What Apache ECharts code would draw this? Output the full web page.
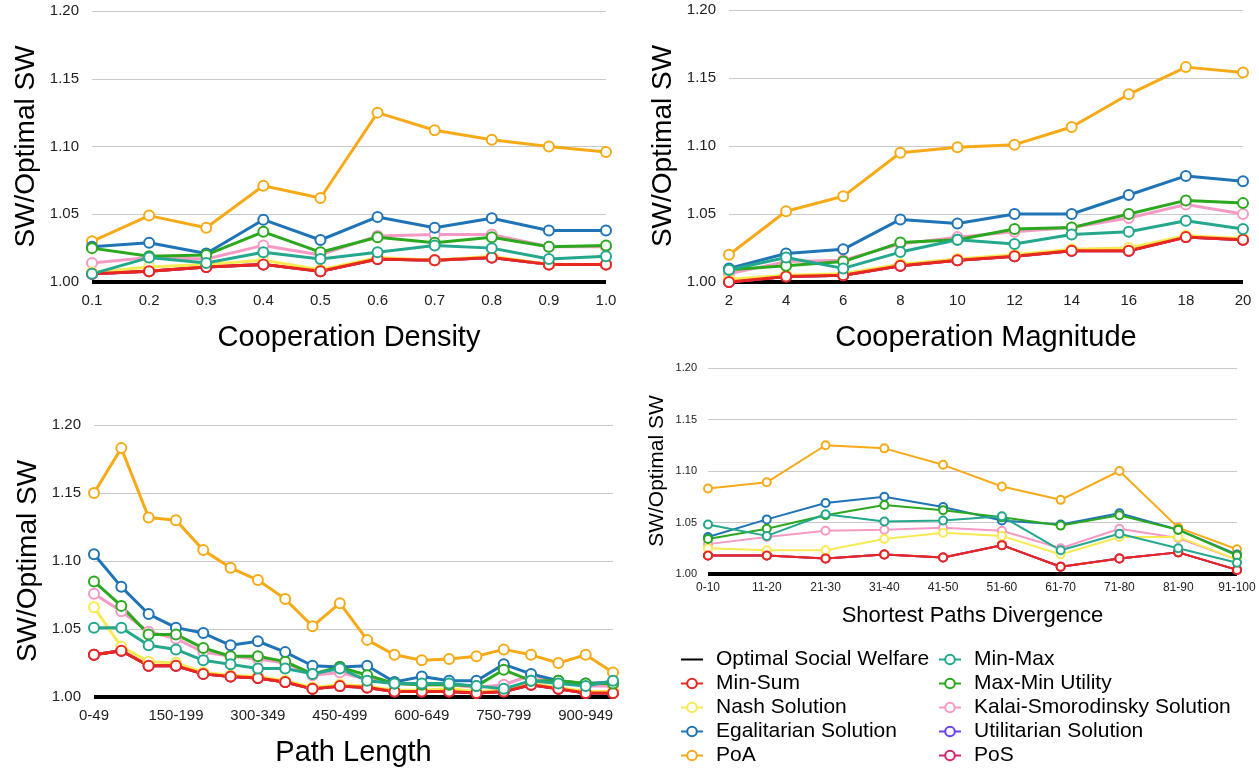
<!DOCTYPE html>
<html>
<head>
<meta charset="utf-8">
<script src="https://cdn.jsdelivr.net/npm/echarts@6/dist/echarts.min.js"></script>
<style>
  body { margin: 0; background: #fff; }
  #main { width: 1259px; height: 772px; }
</style>
</head>
<body>
<div id="main"></div>
<script>
  // categories
  var densityLabels = ['0.1', '0.2', '0.3', '0.4', '0.5', '0.6', '0.7', '0.8', '0.9', '1.0'];
  var magnitudeLabels = ['2', '4', '6', '8', '10', '12', '14', '16', '18', '20'];
  var pathLabels = ['0-49', '50-99', '100-149', '150-199', '200-249', '250-299', '300-349', '350-399', '400-449', '450-499',
    '500-549', '550-599', '600-649', '650-699', '700-749', '750-799', '800-849', '850-899', '900-949', '950-999'];
  var divergenceLabels = ['0-10', '11-20', '21-30', '31-40', '41-50', '51-60', '61-70', '71-80', '81-90', '91-100'];

  // Cooperation Density
  var densityOptimal = [1, 1, 1, 1, 1, 1, 1, 1, 1, 1];
  var densityMinSum = [1.006, 1.008, 1.011, 1.013, 1.008, 1.017, 1.016, 1.018, 1.013, 1.013];
  var densityNash = [1.007, 1.011, 1.013, 1.016, 1.009, 1.018, 1.016, 1.019, 1.013, 1.013];
  var densityEgalitarian = [1.026, 1.029, 1.021, 1.046, 1.031, 1.048, 1.040, 1.047, 1.038, 1.038];
  var densityPoA = [1.030, 1.049, 1.040, 1.071, 1.062, 1.125, 1.112, 1.105, 1.100, 1.096];
  var densityMinMax = [1.006, 1.018, 1.014, 1.022, 1.017, 1.022, 1.027, 1.025, 1.017, 1.019];
  var densityMaxMin = [1.025, 1.019, 1.020, 1.037, 1.022, 1.033, 1.029, 1.033, 1.026, 1.027];
  var densityKalai = [1.014, 1.018, 1.017, 1.027, 1.020, 1.034, 1.035, 1.035, 1.026, 1.026];

  // Cooperation Magnitude
  var magnitudeOptimal = [1, 1, 1, 1, 1, 1, 1, 1, 1, 1];
  var magnitudeMinSum = [1.000, 1.004, 1.005, 1.012, 1.016, 1.019, 1.023, 1.023, 1.033, 1.031];
  var magnitudeNash = [1.002, 1.005, 1.006, 1.013, 1.017, 1.020, 1.024, 1.025, 1.034, 1.032];
  var magnitudeEgalitarian = [1.010, 1.021, 1.024, 1.046, 1.043, 1.050, 1.050, 1.064, 1.078, 1.074];
  var magnitudePoA = [1.020, 1.052, 1.063, 1.095, 1.099, 1.101, 1.114, 1.138, 1.158, 1.154];
  var magnitudeMinMax = [1.009, 1.018, 1.010, 1.022, 1.031, 1.028, 1.035, 1.037, 1.045, 1.039];
  var magnitudeMaxMin = [1.009, 1.012, 1.015, 1.029, 1.031, 1.039, 1.040, 1.050, 1.060, 1.058];
  var magnitudeKalai = [1.006, 1.015, 1.016, 1.028, 1.033, 1.037, 1.040, 1.047, 1.057, 1.050];

  // Path Length
  var pathOptimal = [1, 1, 1, 1, 1, 1, 1, 1, 1, 1, 1, 1, 1, 1, 1, 1, 1, 1, 1, 1];
  var pathMinSum = [1.031, 1.034, 1.023, 1.023, 1.017, 1.015, 1.014, 1.011, 1.006, 1.008,
    1.007, 1.004, 1.004, 1.004, 1.003, 1.004, 1.009, 1.006, 1.003, 1.003];
  var pathNash = [1.066, 1.037, 1.026, 1.025, 1.018, 1.016, 1.015, 1.012, 1.007, 1.009,
    1.008, 1.005, 1.005, 1.006, 1.004, 1.005, 1.010, 1.007, 1.004, 1.004];
  var pathEgalitarian = [1.105, 1.081, 1.061, 1.051, 1.047, 1.038, 1.041, 1.033, 1.023, 1.022,
    1.023, 1.011, 1.015, 1.012, 1.012, 1.024, 1.017, 1.012, 1.010, 1.011];
  var pathPoA = [1.150, 1.183, 1.132, 1.130, 1.108, 1.095, 1.086, 1.072, 1.052, 1.069,
    1.042, 1.031, 1.027, 1.028, 1.030, 1.035, 1.031, 1.025, 1.031, 1.018];
  var pathMinMax = [1.051, 1.051, 1.038, 1.035, 1.027, 1.024, 1.021, 1.021, 1.017, 1.021,
    1.012, 1.010, 1.010, 1.010, 1.008, 1.006, 1.012, 1.010, 1.008, 1.012];
  var pathMaxMin = [1.085, 1.067, 1.046, 1.046, 1.036, 1.030, 1.030, 1.026, 1.017, 1.022,
    1.016, 1.010, 1.009, 1.009, 1.008, 1.020, 1.012, 1.012, 1.010, 1.010];
  var pathKalai = [1.076, 1.063, 1.048, 1.043, 1.033, 1.030, 1.028, 1.025, 1.016, 1.018,
    1.013, 1.010, 1.009, 1.009, 1.007, 1.009, 1.016, 1.011, 1.008, 1.008];

  // Shortest Paths Divergence
  var divergenceOptimal = [1, 1, 1, 1, 1, 1, 1, 1, 1, 1];
  var divergenceMinSum = [1.018, 1.018, 1.015, 1.019, 1.016, 1.028, 1.007, 1.015, 1.021, 1.004];
  var divergenceNash = [1.025, 1.023, 1.023, 1.034, 1.040, 1.037, 1.019, 1.036, 1.036, 1.014];
  var divergenceEgalitarian = [1.036, 1.053, 1.069, 1.075, 1.065, 1.052, 1.048, 1.059, 1.043, 1.019];
  var divergencePoA = [1.083, 1.089, 1.125, 1.122, 1.106, 1.085, 1.072, 1.100, 1.045, 1.024];
  var divergenceMinMax = [1.048, 1.037, 1.058, 1.051, 1.052, 1.056, 1.023, 1.039, 1.025, 1.011];
  var divergenceMaxMin = [1.034, 1.044, 1.057, 1.067, 1.062, 1.055, 1.047, 1.057, 1.043, 1.018];
  var divergenceKalai = [1.029, 1.036, 1.042, 1.043, 1.045, 1.042, 1.025, 1.044, 1.035, 1.014];

  var colors = {
    'Optimal Social Welfare': '#000000',
    'Min-Sum': '#e8281e',
    'Nash Solution': '#f8ea52',
    'Egalitarian Solution': '#1f74b5',
    'PoA': '#f7aa18',
    'Min-Max': '#23a88e',
    'Max-Min Utility': '#2aa81e',
    'Kalai-Smorodinsky Solution': '#f59ac4',
    'Utilitarian Solution': '#6a40f0',
    'PoS': '#d3226e'
  };

  // drawing order (last is on top)
  var drawOrder = ['Optimal Social Welfare', 'Utilitarian Solution', 'PoS', 'Kalai-Smorodinsky Solution', 'Nash Solution',
    'PoA', 'Egalitarian Solution', 'Min-Sum', 'Max-Min Utility', 'Min-Max'];

  var font = 'Liberation Sans, Arial, Helvetica, sans-serif';

  var panels = [
    {
      labels: densityLabels, xName: 'Cooperation Density', small: false,
      grid: {left: 92, top: 11, width: 514, height: 271},
      data: {
        'Optimal Social Welfare': densityOptimal, 'Min-Sum': densityMinSum, 'Nash Solution': densityNash,
        'Egalitarian Solution': densityEgalitarian, 'PoA': densityPoA, 'Min-Max': densityMinMax,
        'Max-Min Utility': densityMaxMin, 'Kalai-Smorodinsky Solution': densityKalai,
        'Utilitarian Solution': densityMinSum, 'PoS': densityMinSum
      }
    },
    {
      labels: magnitudeLabels, xName: 'Cooperation Magnitude', small: false,
      grid: {left: 729, top: 10, width: 514, height: 272},
      data: {
        'Optimal Social Welfare': magnitudeOptimal, 'Min-Sum': magnitudeMinSum, 'Nash Solution': magnitudeNash,
        'Egalitarian Solution': magnitudeEgalitarian, 'PoA': magnitudePoA, 'Min-Max': magnitudeMinMax,
        'Max-Min Utility': magnitudeMaxMin, 'Kalai-Smorodinsky Solution': magnitudeKalai,
        'Utilitarian Solution': magnitudeMinSum, 'PoS': magnitudeMinSum
      }
    },
    {
      labels: pathLabels, xName: 'Path Length', small: false, labelInterval: 2,
      grid: {left: 94, top: 425, width: 519, height: 272},
      data: {
        'Optimal Social Welfare': pathOptimal, 'Min-Sum': pathMinSum, 'Nash Solution': pathNash,
        'Egalitarian Solution': pathEgalitarian, 'PoA': pathPoA, 'Min-Max': pathMinMax,
        'Max-Min Utility': pathMaxMin, 'Kalai-Smorodinsky Solution': pathKalai,
        'Utilitarian Solution': pathMinSum, 'PoS': pathMinSum
      }
    },
    {
      labels: divergenceLabels, xName: 'Shortest Paths Divergence', small: true,
      grid: {left: 708, top: 368, width: 529, height: 206},
      data: {
        'Optimal Social Welfare': divergenceOptimal, 'Min-Sum': divergenceMinSum, 'Nash Solution': divergenceNash,
        'Egalitarian Solution': divergenceEgalitarian, 'PoA': divergencePoA, 'Min-Max': divergenceMinMax,
        'Max-Min Utility': divergenceMaxMin, 'Kalai-Smorodinsky Solution': divergenceKalai,
        'Utilitarian Solution': divergenceMinSum, 'PoS': divergenceMinSum
      }
    }
  ];

  var grids = [], xAxes = [], yAxes = [], series = [];

  panels.forEach(function (p, idx) {
    grids.push(p.grid);
    xAxes.push({
      type: 'category',
      gridIndex: idx,
      data: p.labels,
      boundaryGap: false,
      axisLine: {show: false},
      axisTick: {show: false},
      axisLabel: {
        color: '#222', fontFamily: font, fontSize: p.small ? 12 : 15,
        margin: p.small ? 8 : 11, interval: p.labelInterval || 0
      },
      name: p.xName,
      nameLocation: 'middle',
      nameGap: p.small ? 31 : 41,
      nameTextStyle: {color: '#000', fontFamily: font, fontSize: p.small ? 22 : 29}
    });
    yAxes.push({
      type: 'value',
      gridIndex: idx,
      min: 1,
      max: 1.2,
      interval: 0.05,
      axisLine: {show: false},
      axisTick: {show: false},
      axisLabel: {
        color: '#222', fontFamily: font, fontSize: p.small ? 11 : 15,
        margin: p.small ? 11 : 13,
        formatter: function (v) { return v.toFixed(2) }
      },
      splitLine: {lineStyle: {color: '#cacaca', width: 1}},
      name: 'SW/Optimal SW',
      nameLocation: 'middle',
      nameGap: p.small ? 40 : 52,
      nameTextStyle: {color: '#000', fontFamily: font, fontSize: p.small ? 21 : 28}
    });
    drawOrder.forEach(function (name) {
      var isOptimal = name === 'Optimal Social Welfare';
      series.push({
        name: name,
        type: 'line',
        xAxisIndex: idx,
        yAxisIndex: idx,
        data: p.data[name],
        symbol: isOptimal ? 'none' : 'emptyCircle',
        symbolSize: p.small ? 8 : 10,
        lineStyle: {width: isOptimal ? 4 : (p.small ? 2 : 3), color: colors[name]},
        itemStyle: {color: colors[name], borderWidth: p.small ? 2 : 2.5},
        emphasis: {disabled: true}
      });
    });
  });

  var legendText = {color: '#000', fontFamily: font, fontSize: 21, padding: [0, 0, 0, 8]};

  var chart = echarts.init(document.getElementById('main'));
  chart.setOption({
    animation: false,
    backgroundColor: '#fff',
    grid: grids,
    xAxis: xAxes,
    yAxis: yAxes,
    legend: [
      {
        orient: 'vertical', left: 680, top: 649, padding: 0, itemWidth: 22, itemHeight: 12, itemGap: 3,
        textStyle: legendText,
        data: [
          {name: 'Optimal Social Welfare', itemStyle: {opacity: 0}},
          'Min-Sum', 'Nash Solution', 'Egalitarian Solution', 'PoA'
        ]
      },
      {
        orient: 'vertical', left: 938, top: 649, padding: 0, itemWidth: 22, itemHeight: 12, itemGap: 3,
        textStyle: legendText,
        data: ['Min-Max', 'Max-Min Utility', 'Kalai-Smorodinsky Solution', 'Utilitarian Solution', 'PoS']
      }
    ],
    series: series
  });
</script>
</body>
</html>
